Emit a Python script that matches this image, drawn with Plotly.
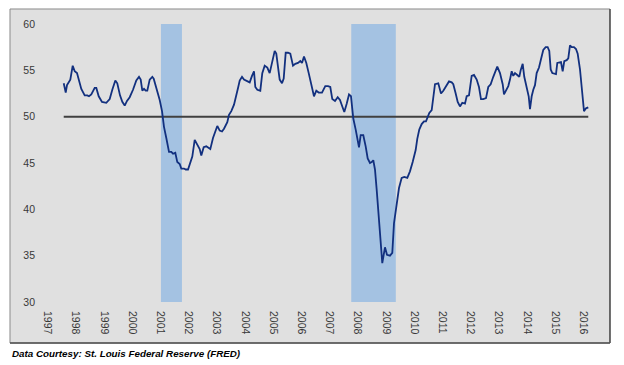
import plotly.graph_objects as go

# Index readings (monthly), x in decimal years
year_frac = [
    1997.720, 1997.791, 1997.837, 1997.954, 1998.039, 1998.110, 1998.191, 1998.262, 1998.344, 1998.464,
    1998.557, 1998.617, 1998.698, 1998.819, 1998.876, 1998.961, 1999.078, 1999.230, 1999.351, 1999.443,
    1999.550, 1999.620, 1999.716, 1999.798, 1999.883, 1999.964, 2000.060, 2000.177, 2000.294, 2000.390,
    2000.450, 2000.507, 2000.567, 2000.627, 2000.684, 2000.769, 2000.862, 2000.911, 2001.003, 2001.124,
    2001.206, 2001.276, 2001.358, 2001.454, 2001.535, 2001.596, 2001.677, 2001.748, 2001.833, 2001.890,
    2001.986, 2002.046, 2002.128, 2002.188, 2002.280, 2002.365, 2002.457, 2002.542, 2002.599, 2002.684,
    2002.776, 2002.837, 2002.918, 2003.014, 2003.095, 2003.166, 2003.252, 2003.333, 2003.404, 2003.521,
    2003.581, 2003.663, 2003.759, 2003.840, 2003.901, 2003.961, 2004.042, 2004.113, 2004.220, 2004.315,
    2004.397, 2004.468, 2004.514, 2004.585, 2004.691, 2004.762, 2004.847, 2004.940, 2005.024, 2005.106,
    2005.202, 2005.258, 2005.319, 2005.379, 2005.461, 2005.521, 2005.592, 2005.674, 2005.755, 2005.851,
    2005.932, 2006.028, 2006.110, 2006.170, 2006.241, 2006.323, 2006.408, 2006.500, 2006.595, 2006.677,
    2006.762, 2006.879, 2006.996, 2007.092, 2007.173, 2007.244, 2007.340, 2007.436, 2007.517, 2007.599,
    2007.670, 2007.755, 2007.837, 2007.907, 2007.989, 2008.074, 2008.131, 2008.191, 2008.251, 2008.343,
    2008.428, 2008.499, 2008.581, 2008.641, 2008.698, 2008.758, 2008.819, 2008.875, 2008.936, 2009.017,
    2009.113, 2009.184, 2009.290, 2009.372, 2009.432, 2009.528, 2009.610, 2009.705, 2009.797, 2009.904,
    2009.999, 2010.095, 2010.201, 2010.258, 2010.329, 2010.414, 2010.496, 2010.567, 2010.627, 2010.684,
    2010.769, 2010.826, 2010.886, 2011.003, 2011.099, 2011.181, 2011.301, 2011.383, 2011.479, 2011.535,
    2011.620, 2011.691, 2011.773, 2011.854, 2011.950, 2012.010, 2012.092, 2012.187, 2012.269, 2012.365,
    2012.446, 2012.517, 2012.599, 2012.695, 2012.776, 2012.861, 2012.953, 2013.095, 2013.191, 2013.287,
    2013.333, 2013.404, 2013.485, 2013.545, 2013.606, 2013.662, 2013.723, 2013.804, 2013.875, 2013.925,
    2013.996, 2014.052, 2014.137, 2014.209, 2014.255, 2014.315, 2014.372, 2014.432, 2014.492, 2014.574,
    2014.645, 2014.726, 2014.811, 2014.882, 2014.939, 2014.989, 2015.046, 2015.117, 2015.177, 2015.223,
    2015.294, 2015.354, 2015.414, 2015.471, 2015.556, 2015.613, 2015.673, 2015.733, 2015.815, 2015.886,
    2015.946, 2016.028, 2016.088, 2016.170, 2016.241, 2016.322,
]

index_values = [
    53.6, 52.6, 53.4, 54.0, 55.5, 54.9, 54.7, 54.0, 53.0, 52.3,
    52.3, 52.2, 52.4, 53.1, 53.1, 52.2, 51.6, 51.5, 51.9, 52.9,
    53.9, 53.6, 52.3, 51.6, 51.2, 51.7, 52.1, 52.9, 53.9, 54.3,
    54.0, 52.8, 53.0, 52.8, 52.8, 54.0, 54.3, 54.1, 53.1, 51.8,
    50.6, 48.9, 47.7, 46.2, 46.2, 46.0, 46.1, 45.1, 44.9, 44.4,
    44.4, 44.3, 44.3, 44.8, 45.7, 47.5, 46.9, 46.5, 45.8, 46.7,
    46.8, 46.7, 46.5, 47.7, 48.5, 49.0, 48.5, 48.4, 48.7, 49.4,
    50.2, 50.6, 51.3, 52.2, 53.1, 53.9, 54.3, 54.0, 53.8, 53.7,
    54.4, 54.9, 53.2, 52.9, 52.8, 54.7, 55.5, 55.3, 54.7, 55.9,
    57.1, 56.8, 55.0, 54.0, 53.6, 54.1, 56.9, 56.9, 56.8, 55.5,
    55.7, 55.8, 56.0, 55.8, 56.5, 55.8, 54.7, 53.4, 52.2, 52.8,
    52.6, 52.6, 53.3, 53.3, 53.2, 51.9, 51.7, 52.1, 51.8, 51.1,
    50.5, 51.4, 52.4, 52.2, 49.8, 48.6, 47.8, 46.7, 48.0, 48.0,
    46.8, 45.5, 45.0, 45.1, 45.3, 44.3, 42.1, 39.6, 36.7, 34.2,
    35.9, 35.1, 35.0, 35.3, 38.5, 40.3, 42.3, 43.4, 43.5, 43.4,
    44.1, 45.1, 46.4, 47.6, 48.6, 49.2, 49.5, 49.5, 50.1, 50.4,
    50.7, 52.3, 53.5, 53.6, 52.5, 52.8, 53.4, 53.8, 53.7, 53.5,
    52.5, 51.6, 51.1, 51.5, 51.4, 52.2, 52.3, 54.4, 54.5, 54.0,
    53.2, 51.9, 51.9, 52.0, 53.2, 53.5, 54.3, 55.4, 54.7, 53.5,
    52.4, 52.9, 53.3, 54.0, 54.9, 54.4, 54.7, 54.5, 54.3, 55.0,
    55.7, 54.3, 53.1, 52.2, 50.8, 52.2, 52.9, 53.4, 54.7, 55.3,
    56.2, 57.2, 57.5, 57.5, 57.1, 55.1, 54.7, 54.6, 54.6, 55.8,
    55.9, 55.9, 54.9, 56.0, 56.1, 56.3, 57.7, 57.5, 57.5, 57.3,
    56.8, 55.1, 53.2, 50.6, 50.9, 51.0,
]

threshold = 50

# Recessions (decimal years)
recession_starts = [2001.167, 2007.917]
recession_ends = [2001.913, 2009.497]

tick_years = list(range(1997, 2017))
tick_labels = [str(y) for y in tick_years]
tick_positions = [y + 0.15 for y in tick_years]

y_ticks = [30, 35, 40, 45, 50, 55, 60]

fig = go.Figure()

# chart frame (gray chart area)
fig.add_shape(type="rect", xref="paper", yref="paper",
              x0=-0.0531, x1=1.0088, y0=-0.1475, y1=1.054,
              fillcolor="#e0e0e0", line=dict(color="#8a8a8a", width=1), layer="below")
fig.add_shape(type="line", xref="paper", yref="paper",
              x0=1.0088, x1=1.0088, y0=-0.1475, y1=1.054,
              line=dict(color="#505050", width=1.5), layer="below")
fig.add_shape(type="line", xref="paper", yref="paper",
              x0=-0.0531, x1=1.0088, y0=-0.1475, y1=-0.1475,
              line=dict(color="#505050", width=1.5), layer="below")

for s, e in zip(recession_starts, recession_ends):
    fig.add_shape(type="rect", xref="x", yref="y", x0=s, x1=e, y0=30, y1=60,
                  fillcolor="#a4c2e2", line=dict(width=0), layer="below")

fig.add_trace(go.Scatter(
    x=[year_frac[0], year_frac[-1]], y=[threshold, threshold], mode="lines",
    line=dict(color="#404040", width=2), hoverinfo="skip", showlegend=False))

fig.add_trace(go.Scatter(
    x=year_frac, y=index_values, mode="lines",
    line=dict(color="#12307f", width=1.8), showlegend=False))

fig.add_annotation(
    text="<b><i>Data Courtesy: St. Louis Federal Reserve (FRED)</i></b>",
    xref="paper", yref="paper", x=-0.0531, y=-0.1835,
    xanchor="left", yanchor="middle", showarrow=False,
    font=dict(family="Liberation Sans, Arial, sans-serif", size=9.8, color="#000000"))

fig.update_layout(
    width=624, height=365,
    margin=dict(l=40, r=19, t=24, b=63),
    paper_bgcolor="white", plot_bgcolor="rgba(0,0,0,0)",
    font=dict(family="Liberation Sans, Arial, sans-serif", size=10.5, color="#383838"),
    xaxis=dict(range=[1996.879, 2016.915], tickmode="array",
               tickvals=tick_positions, ticktext=tick_labels, tickangle=90,
               showgrid=False, zeroline=False, showline=False, ticks="",
               ticklabelstandoff=8, fixedrange=True),
    yaxis=dict(range=[30, 60], tickmode="array", tickvals=y_ticks,
               showgrid=False, zeroline=False, showline=False, ticks="",
               ticklabelstandoff=4, fixedrange=True),
)

fig.write_html("out.html", config={"displayModeBar": False},
               post_script="document.body.style.margin='0';document.body.style.overflow='hidden';")
